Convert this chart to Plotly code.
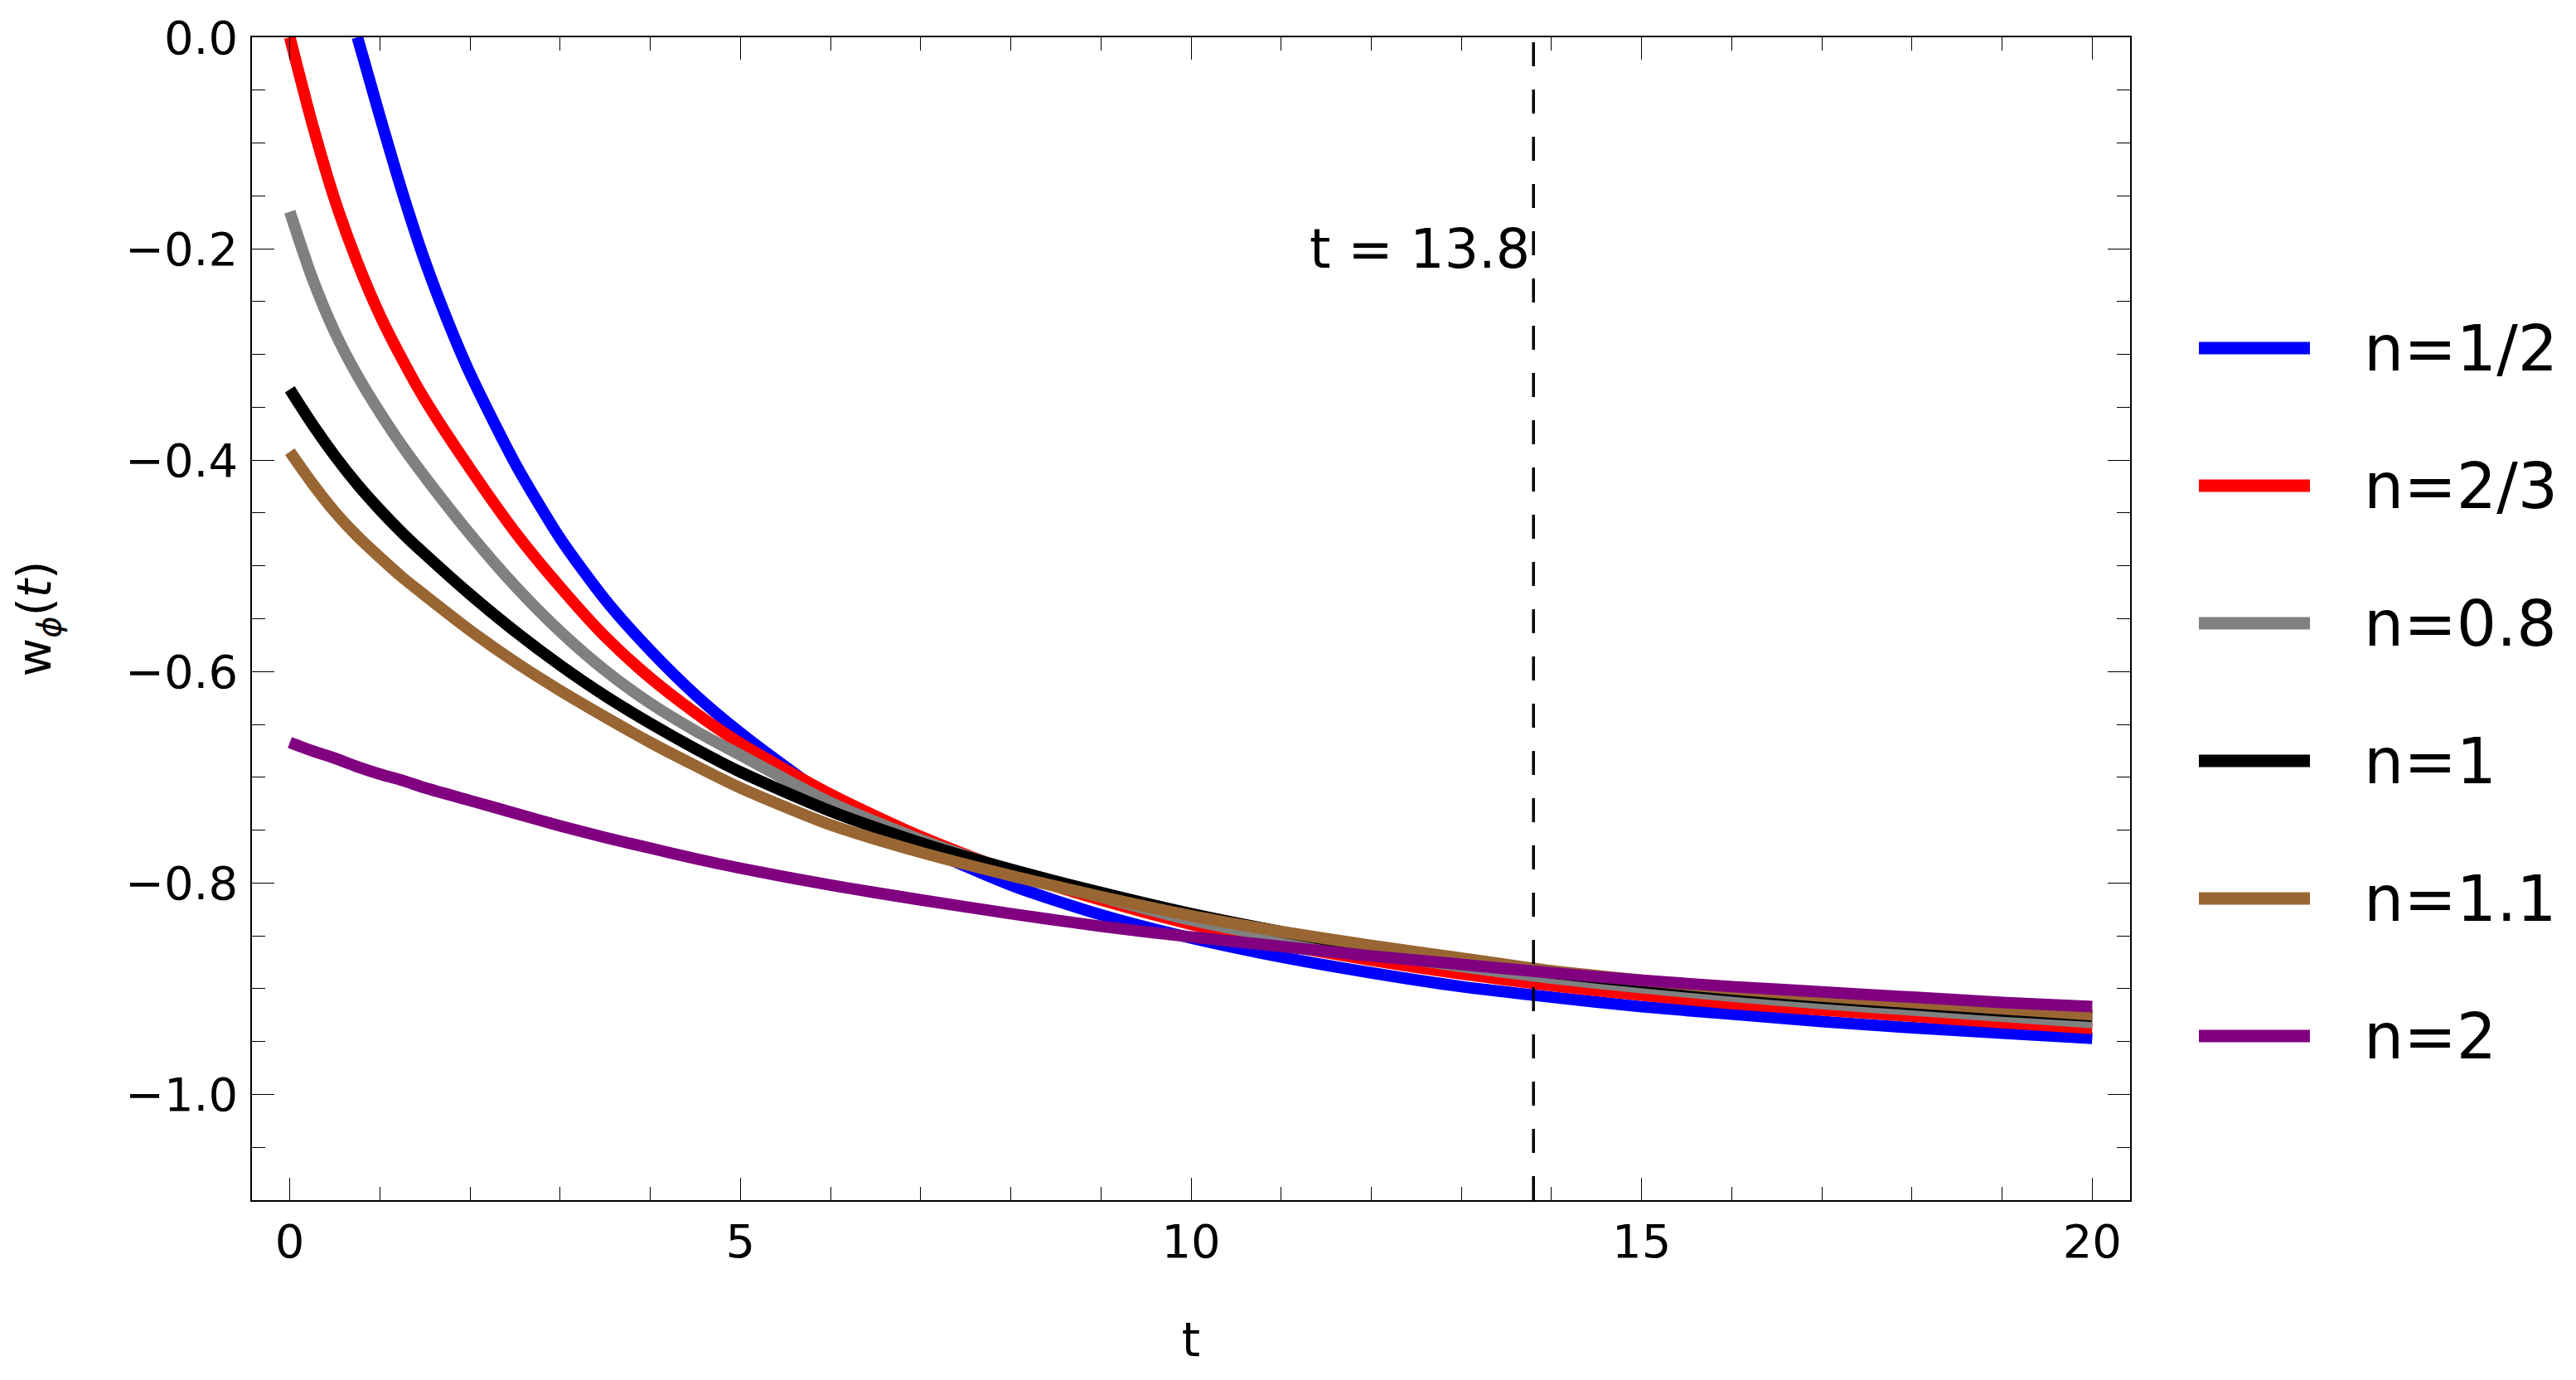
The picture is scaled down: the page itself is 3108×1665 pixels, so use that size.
import plotly.graph_objects as go

# ---- data ----
NAMES = ["n=1/2", "n=2/3", "n=0.8", "n=1", "n=1.1", "n=2"]
COLORS = ["#0000FF", "#FF0000", "#808080", "#000000", "#996633", "#800080"]

t_blue = [0.75, 1.0, 1.25, 1.5, 1.75, 2.0, 2.5, 3.0, 3.5, 4.0, 4.5, 5.0, 5.5, 6.0,
          7.0, 8.0, 9.0, 10, 11, 12, 13, 14, 15, 16, 17, 18, 19, 20]
w_blue = [0.0, -0.075, -0.147, -0.212, -0.268, -0.318, -0.403, -0.474, -0.532, -0.580,
          -0.622, -0.658, -0.690, -0.720, -0.765, -0.802, -0.830, -0.852, -0.870, -0.885,
          -0.898, -0.908, -0.917, -0.924, -0.931, -0.937, -0.942, -0.947]

t_grid = [0, 0.25, 0.5, 0.75, 1.0, 1.25, 1.5, 2.0, 2.5, 3.0, 3.5, 4.0, 4.5, 5.0, 6.0,
          7.0, 8.0, 9.0, 10, 11, 12, 13, 14, 15, 16, 17, 18, 19, 20]
w_red = [0.0, -0.082, -0.154, -0.213, -0.263, -0.305, -0.343, -0.408, -0.468, -0.520,
         -0.567, -0.606, -0.639, -0.668, -0.716, -0.756, -0.789, -0.816, -0.839, -0.858,
         -0.873, -0.886, -0.897, -0.906, -0.914, -0.920, -0.926, -0.932, -0.9376]
w_gray = [-0.165, -0.228, -0.279, -0.320, -0.355, -0.387, -0.416, -0.470, -0.519, -0.562,
          -0.599, -0.630, -0.656, -0.679, -0.724, -0.759, -0.788, -0.813, -0.835, -0.852,
          -0.866, -0.879, -0.890, -0.899, -0.907, -0.914, -0.920, -0.926, -0.932]
w_black = [-0.333, -0.366, -0.396, -0.423, -0.447, -0.469, -0.489, -0.527, -0.562, -0.594,
           -0.623, -0.649, -0.673, -0.695, -0.732, -0.762, -0.787, -0.809, -0.829, -0.846,
           -0.861, -0.874, -0.885, -0.894, -0.902, -0.909, -0.915, -0.921, -0.926]
w_brown = [-0.392, -0.422, -0.449, -0.472, -0.492, -0.511, -0.528, -0.561, -0.591, -0.618,
           -0.643, -0.667, -0.689, -0.710, -0.745, -0.771, -0.793, -0.813, -0.831, -0.846,
           -0.859, -0.871, -0.883, -0.892, -0.900, -0.907, -0.913, -0.919, -0.9245]
w_purple = [-0.667, -0.675, -0.682, -0.690, -0.697, -0.703, -0.710, -0.722, -0.734, -0.746,
            -0.757, -0.767, -0.777, -0.786, -0.802, -0.816, -0.829, -0.841, -0.851, -0.860,
            -0.869, -0.877, -0.885, -0.892, -0.898, -0.903, -0.908, -0.913, -0.917]

T_MARK = 13.8
MARK_LABEL = "t = 13.8"
X_TICKS = [0, 5, 10, 15, 20]

series_t = [t_blue, t_grid, t_grid, t_grid, t_grid, t_grid]
series_w = [w_blue, w_red, w_gray, w_black, w_brown, w_purple]

FONT = "DejaVu Sans"

fig = go.Figure()
for name, color, tt, ww in zip(NAMES, COLORS, series_t, series_w):
    fig.add_trace(go.Scatter(x=tt, y=ww, mode="lines", name=name,
                             line=dict(color=color, width=14, shape="spline", smoothing=0.7),
                             showlegend=False))

W, H = 3108, 1665
L, R, T, B = 296, 546, 37, 225
pw, ph = W - L - R, H - T - B

axis_common = dict(
    showline=True, linecolor="black", linewidth=1.5, mirror="allticks",
    ticks="inside", ticklen=27, tickwidth=1.3, tickcolor="black",
    showgrid=False, zeroline=False,
    tickfont=dict(family=FONT, size=56, color="black"),
)

fig.update_layout(
    width=W, height=H,
    margin=dict(l=L, r=R, t=T, b=B, autoexpand=False),
    paper_bgcolor="white", plot_bgcolor="white",
    font=dict(family=FONT, color="black"),
    xaxis=dict(range=[-0.42, 20.42], tickmode="array", tickvals=X_TICKS,
               ticklabelstandoff=0,
               minor=dict(dtick=1, tick0=0, ticks="inside", ticklen=16, tickwidth=1,
                          tickcolor="black", showgrid=False),
               title=dict(text="t", font=dict(family=FONT, size=57), standoff=67),
               **axis_common),
    yaxis=dict(range=[-1.1, 0], tick0=0, dtick=0.2, tickformat=".1f",
               ticklabelstandoff=4,
               minor=dict(dtick=0.05, tick0=0, ticks="inside", ticklen=16, tickwidth=1,
                          tickcolor="black", showgrid=False),
               title=dict(text="w<sub><i>ϕ</i></sub>(<i>t</i>)",
                          font=dict(family=FONT, size=57), standoff=72),
               **axis_common),
)

# vertical dashed marker
fig.add_shape(type="line", xref="x", yref="paper", x0=T_MARK, x1=T_MARK, y0=0, y1=1,
              line=dict(color="black", width=3.5, dash="29px,28px"), layer="above")
fig.add_annotation(x=T_MARK, y=-0.2, xref="x", yref="y", text=MARK_LABEL,
                   showarrow=False, xanchor="right", yanchor="middle", xshift=-2,
                   font=dict(family=FONT, size=65, color="black"))

# legend drawn at the right
leg_x0 = (2645 - L) / pw
leg_x1 = (2779 - L) / pw
leg_tx = (2842 - L) / pw
leg_y0 = (H - B - 412) / ph
leg_dy = 166 / ph
for i, (name, color) in enumerate(zip(NAMES, COLORS)):
    yy = leg_y0 - i * leg_dy
    fig.add_shape(type="line", xref="paper", yref="paper", x0=leg_x0, x1=leg_x1,
                  y0=yy, y1=yy, line=dict(color=color, width=15))
    fig.add_annotation(xref="paper", yref="paper", x=leg_tx, y=yy, text=name,
                       showarrow=False, xanchor="left", yanchor="middle",
                       font=dict(family=FONT, size=76, color="black"))

fig.write_html("out.html")
